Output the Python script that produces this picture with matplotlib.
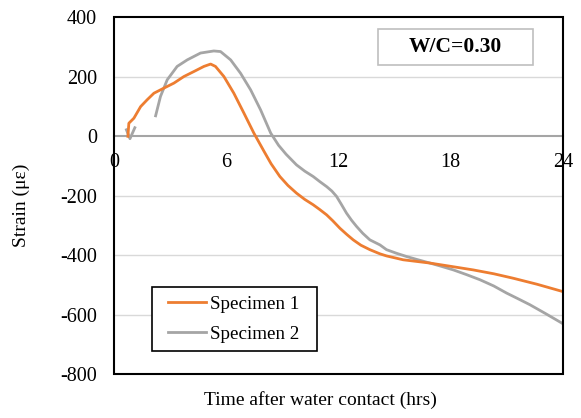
import matplotlib
matplotlib.use("Agg")
import matplotlib.pyplot as plt
from matplotlib.patches import Rectangle

plt.rcParams['font.family'] = ['Liberation Serif', 'DejaVu Serif']
plt.rcParams['axes.unicode_minus'] = False

# Specimen 1 (orange)
t1 = [0.75, 0.80, 1.07, 1.43, 1.78, 2.14, 2.67, 3.21, 3.74, 4.28, 4.81, 5.17,
      5.43, 5.88, 6.41, 6.95, 7.48, 8.02, 8.40, 8.87, 9.30, 9.76, 10.20, 10.65,
      11.00, 11.37, 11.70, 12.08, 12.45, 12.79, 13.20, 13.68, 14.22, 14.57,
      15.46, 16.89, 18.00, 19.20, 20.30, 21.34, 22.60, 24.0]
s1 = [0, 44, 61, 100, 123, 145, 162, 179, 201, 218, 235, 243,
      235, 201, 145, 78, 11, -50, -92, -135, -165, -191, -212, -230,
      -246, -264, -284, -309, -330, -348, -366, -381, -395, -402,
      -415, -426, -437, -449, -462, -477, -497, -522]

# Specimen 2 (gray): short early hook, then main curve
t2a = [0.67, 0.86, 1.12]
s2a = [22, -8, 29]
t2 = [2.23, 2.49, 2.85, 3.38, 3.92, 4.63, 5.34, 5.70, 6.24, 6.77, 7.31, 7.84,
      8.38, 8.80, 9.20, 9.76, 10.20, 10.65, 11.00, 11.37, 11.65, 11.90, 12.15,
      12.43, 12.70, 12.97, 13.30, 13.68, 14.22, 14.57, 15.10, 15.64, 16.20,
      16.89, 17.50, 18.14, 18.85, 19.56, 20.30, 20.99, 21.60, 22.23, 23.10, 24.0]
s2 = [69, 134, 190, 235, 257, 280, 287, 285, 257, 212, 156, 89,
      11, -30, -60, -96, -117, -135, -152, -169, -184, -202, -228,
      -258, -282, -303, -326, -348, -365, -381, -393, -404, -414,
      -426, -437, -449, -465, -482, -503, -527, -546, -566, -597, -630]

xticks = [0, 6, 12, 18, 24]
yticks = [400, 200, 0, -200, -400, -600, -800]

orange = '#ED7D31'
gray = '#A5A5A5'

fig = plt.figure(figsize=(5.81, 4.18), dpi=100)
ax = fig.add_axes([0.196, 0.1045, 0.773, 0.854])

for y in [200, -200, -400, -600]:
    ax.axhline(y, color='#D9D9D9', lw=1, zorder=0)

ax.plot(t1, s1, color=orange, lw=2, label='Specimen 1', zorder=3)
ax.plot(t2, s2, color=gray, lw=2, label='Specimen 2', zorder=2)
ax.plot(t2a, s2a, color=gray, lw=2, zorder=2)

ax.set_xlim(0, 24)
ax.set_ylim(-800, 400)
ax.set_xticks(xticks)
ax.set_yticks(yticks)

ax.spines['bottom'].set_position(('data', 0))
ax.spines['bottom'].set_color(gray)
ax.spines['bottom'].set_linewidth(1.5)
for side in ['top', 'right']:
    ax.spines[side].set_visible(False)
ax.spines['left'].set_linewidth(1.2)
ax.add_patch(Rectangle((0, 0), 1, 1, transform=ax.transAxes, fill=False,
                       edgecolor='black', lw=1.5, zorder=5, clip_on=False))

ax.tick_params(axis='both', length=0, labelsize=14.5)
ax.tick_params(axis='x', pad=12)
ax.tick_params(axis='y', pad=12)

fig.text(320 / 581, 1 - 400 / 418, 'Time after water contact (hrs)',
         ha='center', va='center', fontsize=14)
fig.text(21 / 581, 1 - 205 / 418, 'Strain (\u03bc\u03b5)', rotation=90,
         ha='center', va='center', fontsize=14)

# W/C label box
ax.add_patch(Rectangle((0.588, 0.866), 0.345, 0.101, transform=ax.transAxes,
                       facecolor='white', edgecolor='#BFBFBF', lw=1.2, zorder=6))
ax.text(0.7606, 0.917, 'W/C=0.30', transform=ax.transAxes, ha='center', va='center',
        fontsize=15.5, fontweight='bold', zorder=7)

# legend: box drawn separately, entries placed inside
ax.add_patch(Rectangle((0.0846, 0.065), 0.3675, 0.179, transform=ax.transAxes,
                       facecolor='white', edgecolor='black', lw=1.2, zorder=6))
leg = ax.legend(loc='lower left', bbox_to_anchor=(0.101, 0.065), borderaxespad=0,
                fontsize=13.7, frameon=False, handlelength=2.0, handletextpad=0.2,
                borderpad=0.45, labelspacing=0.65)
leg.set_zorder(7)

fig.savefig('out.png', dpi=100)
